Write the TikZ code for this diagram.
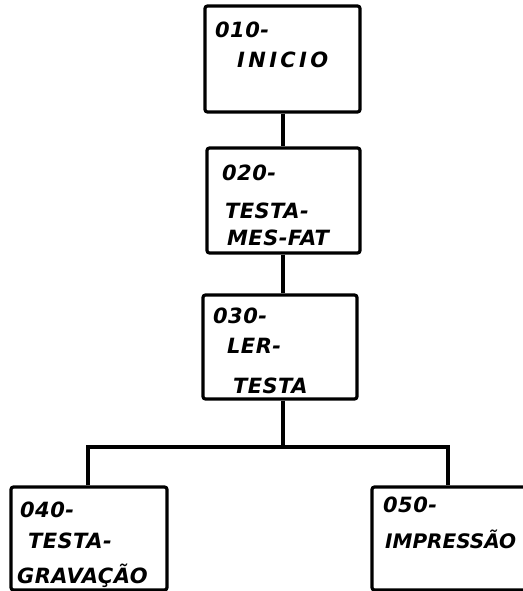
\documentclass[tikz,border=0pt]{standalone}
\usepackage{fontspec}
\setmainfont{DejaVu Sans}
\newfontfamily\handfont[LetterSpace=2]{DejaVu Sans}
\newfontfamily\handwide[LetterSpace=16]{DejaVu Sans}
\newfontfamily\handtight[LetterSpace=0]{DejaVu Sans}
\begin{document}
\begin{tikzpicture}[x=1pt,y=-1pt,
  box/.style={draw, line width=3.2pt, rounded corners=2.5pt, inner sep=0pt},
  wire/.style={line width=3.2pt},
  txt/.style={anchor=base west, inner sep=0pt, font=\handfont\bfseries\itshape\fontsize{21}{21}\selectfont},
  txtw/.style={anchor=base west, inner sep=0pt, font=\handwide\bfseries\itshape\fontsize{21}{21}\selectfont},
  txtt/.style={anchor=base west, inner sep=0pt, font=\handtight\bfseries\itshape\fontsize{20}{20}\selectfont}]
\useasboundingbox (0,0) rectangle (522,591);
% boxes
\node[box, minimum width=155pt, minimum height=106pt] (b010) at (282.5,59) {};
\node[box, minimum width=153pt, minimum height=105pt] (b020) at (283.5,200.5) {};
\node[box, minimum width=154pt, minimum height=104pt] (b030) at (280,347) {};
\node[box, minimum width=156pt, minimum height=103pt] (b040) at (89,538.5) {};
\node[box, minimum width=168pt, minimum height=103pt] (b050) at (456,538.5) {};
% junctions
\coordinate (j) at (283,447);
\coordinate (jl) at (88,447);
\coordinate (jr) at (448,447);
% connectors
\draw[wire] (b010.south -| j) -- (b020.north -| j);
\draw[wire] (b020.south -| j) -- (b030.north -| j);
\draw[wire] (b030.south -| j) -- (j);
\draw[wire] (b040.north -| jl) -- (jl) -- (jr) -- (b050.north -| jr);
% texts
\node[txt] (t010a) at (215,38) {010-};
\node[txtw] (t010b) at (237,68) {INICIO};
\node[txt] (t020a) at (222,180) {020-};
\node[txt] (t020b) at (225,218) {TESTA-};
\node[txt] (t020c) at (227,245) {MES-FAT};
\node[txt] (t030a) at (213,323) {030-};
\node[txt] (t030b) at (227,353) {LER-};
\node[txt] (t030c) at (233,393) {TESTA};
\node[txt] (t040a) at (20,517) {040-};
\node[txt] (t040b) at (28,548) {TESTA-};
\node[txt] (t040c) at (17,583) {GRAVAÇÃO};
\node[txt] (t050a) at (383,512) {050-};
\node[txtt] (t050b) at (385,548) {IMPRESSÃO};
\end{tikzpicture}
\end{document}
